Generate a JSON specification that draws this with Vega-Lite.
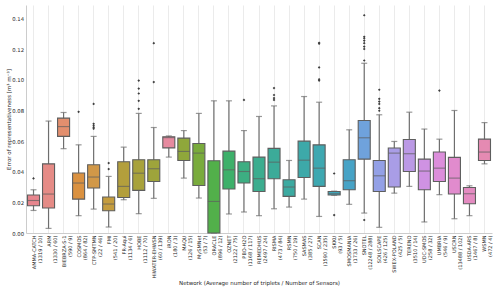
{
  "$schema": "https://vega.github.io/schema/vega-lite/v6.json",
  "width": 466,
  "height": 228,
  "autosize": {"type": "none"},
  "padding": {"left": 26, "top": 5, "right": 8, "bottom": 57},
  "background": "white",
  "config": {
    "view": {"stroke": null},
    "font": "DejaVu Sans",
    "axisY": {
      "titleFontSize": 5.5,
      "titleFontWeight": "normal",
      "titleColor": "#262626",
      "titleX": -18,
      "titleY": 114,
      "titleBaseline": "middle",
      "format": ".2f",
      "labelFontSize": 5.3,
      "labelColor": "#262626",
      "labelPadding": 2.5,
      "labelOverlap": false,
      "labelFlush": false,
      "ticks": false,
      "grid": false,
      "domainColor": "#cccccc"
    }
  },
  "datasets": {
    "boxes": [
      {"network": "AMMA-CATCH (1319 / 10)", "lo": 0.0147, "q1": 0.0178, "med": 0.0212, "q3": 0.0248, "hi": 0.0282},
      {"network": "ARM (1330 / 60)", "lo": 0.003, "q1": 0.0163, "med": 0.0254, "q3": 0.0451, "hi": 0.073},
      {"network": "BIEBRZA-S-1 (590 / 9)", "lo": 0.055, "q1": 0.063, "med": 0.0694, "q3": 0.0749, "hi": 0.0786},
      {"network": "COSMOS (864 / 82)", "lo": 0.0113, "q1": 0.0221, "med": 0.0326, "q3": 0.0391, "hi": 0.0575},
      {"network": "CTP-SMTMN (22 / 46)", "lo": 0.0156, "q1": 0.0293, "med": 0.0365, "q3": 0.0445, "hi": 0.063},
      {"network": "FMI (541 / 20)", "lo": 0.0039, "q1": 0.0145, "med": 0.0189, "q3": 0.0235, "hi": 0.0369},
      {"network": "FR-Aqui (1134 / 6)", "lo": 0.0217, "q1": 0.0232, "med": 0.0304, "q3": 0.0465, "hi": 0.056},
      {"network": "HOBE (1112 / 70)", "lo": 0.0126, "q1": 0.0278, "med": 0.039, "q3": 0.0478, "hi": 0.078},
      {"network": "HiWATER-EHWSN (60 / 139)", "lo": 0.0226, "q1": 0.0336, "med": 0.0419, "q3": 0.0478, "hi": 0.0688},
      {"network": "iRON (180 / 3)", "lo": 0.0495, "q1": 0.0555, "med": 0.0622, "q3": 0.0628, "hi": 0.0633},
      {"network": "MAQU (126 / 15)", "lo": 0.0358, "q1": 0.0473, "med": 0.0532, "q3": 0.0619, "hi": 0.0668},
      {"network": "MySMNet (53 / 7)", "lo": 0.0228, "q1": 0.031, "med": 0.0521, "q3": 0.0584, "hi": 0.078},
      {"network": "ORACLE (896 / 12)", "lo": 0.0, "q1": 0.0, "med": 0.0206, "q3": 0.0471, "hi": 0.0862},
      {"network": "OZNET (2122 / 75)", "lo": 0.0124, "q1": 0.0287, "med": 0.0412, "q3": 0.0534, "hi": 0.0862},
      {"network": "PBO-H2O (1168 / 117)", "lo": 0.0137, "q1": 0.0326, "med": 0.0401, "q3": 0.0465, "hi": 0.0668},
      {"network": "REMEDHUS (2497 / 24)", "lo": 0.0113, "q1": 0.0271, "med": 0.0354, "q3": 0.0495, "hi": 0.076},
      {"network": "RISMA (473 / 84)", "lo": 0.0158, "q1": 0.0354, "med": 0.0462, "q3": 0.0552, "hi": 0.0829},
      {"network": "RSMN (750 / 19)", "lo": 0.0169, "q1": 0.0239, "med": 0.03, "q3": 0.0347, "hi": 0.0473},
      {"network": "SASMAS (385 / 27)", "lo": 0.0221, "q1": 0.0362, "med": 0.0475, "q3": 0.0599, "hi": 0.089},
      {"network": "SCAN (1590 / 235)", "lo": 0.0108, "q1": 0.0304, "med": 0.0423, "q3": 0.0575, "hi": 0.0853},
      {"network": "SKKU (93 / 5)", "lo": 0.0246, "q1": 0.0248, "med": 0.0256, "q3": 0.0271, "hi": 0.0273},
      {"network": "SMOSMANIA (1733 / 26)", "lo": 0.0187, "q1": 0.0282, "med": 0.0341, "q3": 0.0478, "hi": 0.0673},
      {"network": "SNOTEL (12248 / 288)", "lo": 0.013, "q1": 0.0482, "med": 0.0621, "q3": 0.0734, "hi": 0.1107},
      {"network": "SOILSCAPE (426 / 125)", "lo": 0.0037, "q1": 0.0271, "med": 0.0373, "q3": 0.0473, "hi": 0.0771},
      {"network": "SWEX-POLAND (425 / 5)", "lo": 0.026, "q1": 0.03, "med": 0.0521, "q3": 0.0554, "hi": 0.0597},
      {"network": "TERENO (3510 / 14)", "lo": 0.0304, "q1": 0.0401, "med": 0.0517, "q3": 0.061, "hi": 0.0788},
      {"network": "UDC-SMOS (258 / 32)", "lo": 0.0072, "q1": 0.0282, "med": 0.0404, "q3": 0.0482, "hi": 0.0678},
      {"network": "UMBRIA (546 / 9)", "lo": 0.025, "q1": 0.0336, "med": 0.0423, "q3": 0.0528, "hi": 0.0612},
      {"network": "USCRN (13488 / 102)", "lo": 0.0093, "q1": 0.0254, "med": 0.0358, "q3": 0.0493, "hi": 0.0799},
      {"network": "USDA-ARS (1467 / 8)", "lo": 0.0113, "q1": 0.0191, "med": 0.0256, "q3": 0.0297, "hi": 0.0308},
      {"network": "WSMN (472 / 4)", "lo": 0.0451, "q1": 0.0473, "med": 0.0528, "q3": 0.0612, "hi": 0.072}
    ],
    "outliers": [
      {"network": "AMMA-CATCH (1319 / 10)", "value": 0.0356},
      {"network": "COSMOS (864 / 82)", "value": 0.079},
      {"network": "CTP-SMTMN (22 / 46)", "value": 0.0842},
      {"network": "CTP-SMTMN (22 / 46)", "value": 0.0712},
      {"network": "CTP-SMTMN (22 / 46)", "value": 0.0699},
      {"network": "CTP-SMTMN (22 / 46)", "value": 0.0688},
      {"network": "CTP-SMTMN (22 / 46)", "value": 0.068},
      {"network": "FMI (541 / 20)", "value": 0.0456},
      {"network": "FMI (541 / 20)", "value": 0.0417},
      {"network": "HOBE (1112 / 70)", "value": 0.0994},
      {"network": "HOBE (1112 / 70)", "value": 0.0942},
      {"network": "HOBE (1112 / 70)", "value": 0.091},
      {"network": "HOBE (1112 / 70)", "value": 0.0862},
      {"network": "HOBE (1112 / 70)", "value": 0.081},
      {"network": "HiWATER-EHWSN (60 / 139)", "value": 0.1238},
      {"network": "HiWATER-EHWSN (60 / 139)", "value": 0.0984},
      {"network": "PBO-H2O (1168 / 117)", "value": 0.0868},
      {"network": "RISMA (473 / 84)", "value": 0.0945},
      {"network": "RISMA (473 / 84)", "value": 0.09},
      {"network": "RISMA (473 / 84)", "value": 0.088},
      {"network": "RISMA (473 / 84)", "value": 0.0868},
      {"network": "SCAN (1590 / 235)", "value": 0.124},
      {"network": "SCAN (1590 / 235)", "value": 0.1235},
      {"network": "SCAN (1590 / 235)", "value": 0.108},
      {"network": "SCAN (1590 / 235)", "value": 0.1003},
      {"network": "SCAN (1590 / 235)", "value": 0.0994},
      {"network": "SKKU (93 / 5)", "value": 0.0388},
      {"network": "SKKU (93 / 5)", "value": 0.0117},
      {"network": "SNOTEL (12248 / 288)", "value": 0.142},
      {"network": "SNOTEL (12248 / 288)", "value": 0.128},
      {"network": "SNOTEL (12248 / 288)", "value": 0.127},
      {"network": "SNOTEL (12248 / 288)", "value": 0.1255},
      {"network": "SNOTEL (12248 / 288)", "value": 0.1238},
      {"network": "SNOTEL (12248 / 288)", "value": 0.1216},
      {"network": "SNOTEL (12248 / 288)", "value": 0.12},
      {"network": "SNOTEL (12248 / 288)", "value": 0.1125},
      {"network": "SNOTEL (12248 / 288)", "value": 0.0085},
      {"network": "SOILSCAPE (426 / 125)", "value": 0.0934},
      {"network": "SOILSCAPE (426 / 125)", "value": 0.0875},
      {"network": "SOILSCAPE (426 / 125)", "value": 0.0857},
      {"network": "SOILSCAPE (426 / 125)", "value": 0.0842},
      {"network": "SOILSCAPE (426 / 125)", "value": 0.0814},
      {"network": "SOILSCAPE (426 / 125)", "value": 0.0797},
      {"network": "UMBRIA (546 / 9)", "value": 0.0929}
    ]
  },
  "encoding": {
    "x": {
      "field": "network",
      "type": "nominal",
      "sort": null,
      "scale": {
        "paddingInner": 0,
        "paddingOuter": 0,
        "domain": ["AMMA-CATCH (1319 / 10)", "ARM (1330 / 60)", "BIEBRZA-S-1 (590 / 9)", "COSMOS (864 / 82)", "CTP-SMTMN (22 / 46)", "FMI (541 / 20)", "FR-Aqui (1134 / 6)", "HOBE (1112 / 70)", "HiWATER-EHWSN (60 / 139)", "iRON (180 / 3)", "MAQU (126 / 15)", "MySMNet (53 / 7)", "ORACLE (896 / 12)", "OZNET (2122 / 75)", "PBO-H2O (1168 / 117)", "REMEDHUS (2497 / 24)", "RISMA (473 / 84)", "RSMN (750 / 19)", "SASMAS (385 / 27)", "SCAN (1590 / 235)", "SKKU (93 / 5)", "SMOSMANIA (1733 / 26)", "SNOTEL (12248 / 288)", "SOILSCAPE (426 / 125)", "SWEX-POLAND (425 / 5)", "TERENO (3510 / 14)", "UDC-SMOS (258 / 32)", "UMBRIA (546 / 9)", "USCRN (13488 / 102)", "USDA-ARS (1467 / 8)", "WSMN (472 / 4)"]
      },
      "axis": {
        "title": "Network (Average number of triplets / Number of Sensors)",
        "titleFontSize": 5.5,
        "titleFontWeight": "normal",
        "titleColor": "#262626",
        "titleY": 49,
        "titleBaseline": "middle",
        "labelAngle": -90,
        "labelFontSize": 5,
        "labelLineHeight": 6,
        "labelColor": "#262626",
        "labelPadding": 2,
        "labelOverlap": false,
        "labelExpr": "[slice(datum.label, 0, indexof(datum.label, ' (')), slice(datum.label, indexof(datum.label, ' (') + 1)]",
        "ticks": false,
        "grid": true,
        "gridColor": "#ebebeb",
        "gridWidth": 1,
        "domainColor": "#cccccc"
      }
    }
  },
  "layer": [
    {
      "data": {"name": "boxes"},
      "mark": {"type": "rule", "color": "#6e6e6e", "strokeWidth": 1.2},
      "encoding": {
        "y": {
          "field": "lo",
          "type": "quantitative",
          "scale": {"domain": [0, 0.1487], "nice": false, "zero": false},
          "axis": {"title": "Error of representativeness [m³ m⁻³]", "values": [0, 0.02, 0.04, 0.06, 0.08, 0.1, 0.12, 0.14], "labelOverlap": false}
        },
        "y2": {"field": "hi"}
      }
    },
    {
      "data": {"name": "boxes"},
      "mark": {"type": "tick", "color": "#6e6e6e", "size": 6, "thickness": 1.2},
      "encoding": {"y": {"field": "lo", "type": "quantitative", "axis": {"title": "Error of representativeness [m³ m⁻³]", "values": [0, 0.02, 0.04, 0.06, 0.08, 0.1, 0.12, 0.14], "labelOverlap": false}}}
    },
    {
      "data": {"name": "boxes"},
      "mark": {"type": "tick", "color": "#6e6e6e", "size": 6, "thickness": 1.2},
      "encoding": {"y": {"field": "hi", "type": "quantitative", "axis": {"title": "Error of representativeness [m³ m⁻³]", "values": [0, 0.02, 0.04, 0.06, 0.08, 0.1, 0.12, 0.14], "labelOverlap": false}}}
    },
    {
      "data": {"name": "boxes"},
      "mark": {"type": "bar", "width": {"band": 0.8}, "stroke": "#5e5e5e", "strokeWidth": 1.1},
      "encoding": {
        "y": {"field": "q1", "type": "quantitative", "axis": {"title": "Error of representativeness [m³ m⁻³]", "values": [0, 0.02, 0.04, 0.06, 0.08, 0.1, 0.12, 0.14], "labelOverlap": false}},
        "y2": {"field": "q3"},
        "color": {
          "field": "network",
          "type": "nominal",
          "legend": null,
          "scale": {
            "range": ["#e7868e", "#e58b86", "#e38f6e", "#da9140", "#d19848", "#c49c3e", "#b39f3c", "#a8a23b", "#9ea43b", "#8fa73b", "#79ab3c", "#52b04a", "#3db06a", "#3dae82", "#3cad8f", "#3cab99", "#3caaa1", "#3da9a9", "#3ea8b1", "#40a6ba", "#47a3c6", "#6fa2dc", "#93a0e6", "#a99de6", "#bb99e5", "#cf92e3", "#dc8edb", "#e18bcd", "#e48bc1", "#e58ab2", "#e68a9f"]
          }
        }
      }
    },
    {
      "data": {"name": "boxes"},
      "mark": {"type": "tick", "color": "#5e5e5e", "size": 12, "thickness": 1.1},
      "encoding": {"y": {"field": "med", "type": "quantitative", "axis": {"title": "Error of representativeness [m³ m⁻³]", "values": [0, 0.02, 0.04, 0.06, 0.08, 0.1, 0.12, 0.14], "labelOverlap": false}}}
    },
    {
      "data": {"name": "outliers"},
      "mark": {"type": "point", "shape": "diamond", "filled": true, "size": 7, "color": "#3d3d3d", "opacity": 1},
      "encoding": {"y": {"field": "value", "type": "quantitative", "axis": {"title": "Error of representativeness [m³ m⁻³]", "values": [0, 0.02, 0.04, 0.06, 0.08, 0.1, 0.12, 0.14], "labelOverlap": false}}}
    }
  ]
}
